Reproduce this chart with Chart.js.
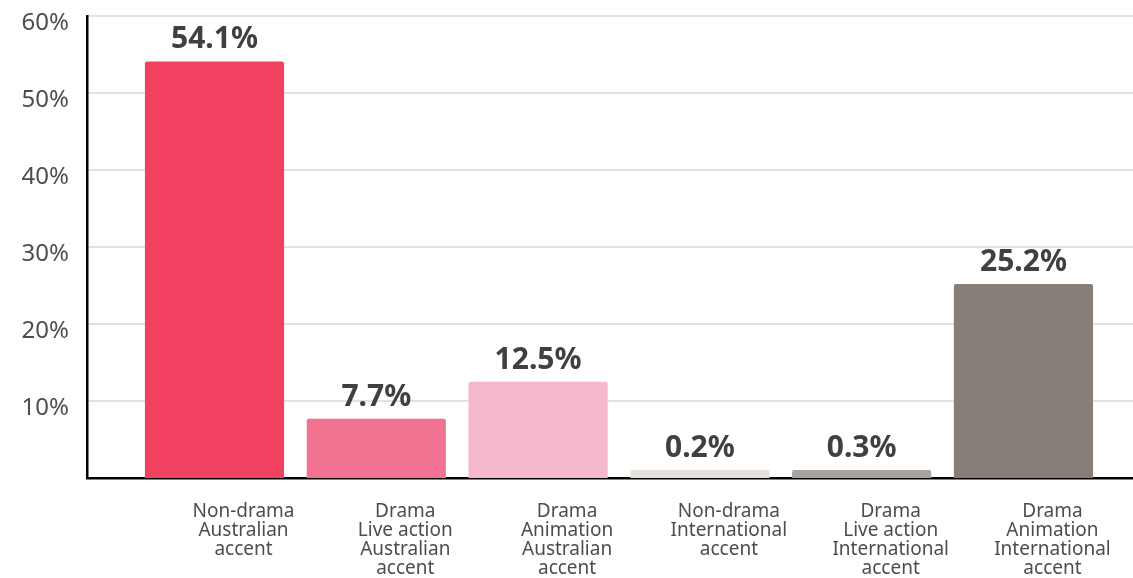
<!DOCTYPE html>
<html>
<head>
<meta charset="utf-8">
<script src="https://cdn.jsdelivr.net/npm/chart.js@4/dist/chart.umd.min.js"></script>
<style>
    html, body { margin: 0; padding: 0; background: #ffffff; }
    #accent-chart { display: block; }
</style>
</head>
<body>
<canvas id="accent-chart" width="1133" height="578"></canvas>
<script>
/**
 * Chart data
 */
const categoryLabels = [
    ['Non-drama', 'Australian', 'accent'],
    ['Drama', 'Live action', 'Australian', 'accent'],
    ['Drama', 'Animation', 'Australian', 'accent'],
    ['Non-drama', 'International', 'accent'],
    ['Drama', 'Live action', 'International', 'accent'],
    ['Drama', 'Animation', 'International', 'accent']
];
const shareValues = [54.1, 7.7, 12.5, 0.2, 0.3, 25.2];
const barColours = ['#f04260', '#f17391', '#f6b8cb', '#e5e1da', '#a9a3a0', '#877e78'];
const yTickValues = [10, 20, 30, 40, 50, 60];

const fontFamily = "'Noto Sans', 'Open Sans', sans-serif";

// x runs as a linear scale so the bars can sit off to the right of the y axis
const xMin = -0.788;
const xMax = 5.677;

//percentage labels above each bar
const valueLabelPlugin = {
    id: 'valueLabels',
    afterDatasetsDraw(chart) {
        const ctx = chart.ctx;
        const meta = chart.getDatasetMeta(0);
        ctx.save();
        ctx.font = "bold 30px " + fontFamily;
        ctx.fillStyle = '#404040';
        ctx.textAlign = 'center';
        ctx.textBaseline = 'alphabetic';
        meta.data.forEach((bar, i) => {
            ctx.fillText(shareValues[i].toFixed(1) + '%', bar.x, bar.y - 13);
        });
        ctx.restore();
    }
};

let accentChartData = {
    datasets: [{
        data: shareValues.map((v, i) => ({ x: i, y: v })),
        backgroundColor: barColours,
        borderRadius: 2,
        borderSkipped: 'bottom',
        barPercentage: 1,
        categoryPercentage: 0.86,
        minBarLength: 8
    }]
};

let accentChartConfig = {
    type: 'bar',
    data: accentChartData,
    plugins: [valueLabelPlugin],
    options: {
        responsive: false,
        animation: false,
        layout: {
            padding: { top: 16, right: 0, bottom: 0, left: 0 }
        },
        plugins: {
            legend: { display: false },
            tooltip: { enabled: false }
        },
        scales: {
            x: {
                type: 'linear',
                offset: false,
                min: xMin,
                max: xMax,
                afterBuildTicks: (scale) => {
                    scale.ticks = categoryLabels.map((c, i) => ({ value: i }));
                },
                afterFit: (scale) => { scale.height = 100; },
                grid: { display: false },
                border: { display: true, color: '#000000', width: 2.5 },
                ticks: {
                    autoSkip: false,
                    maxRotation: 0,
                    minRotation: 0,
                    padding: 16,
                    labelOffset: 29,
                    color: '#4d4d4d',
                    font: { family: fontFamily, size: 19, lineHeight: 1.0 },
                    callback: (value) => categoryLabels[Math.round(value)]
                }
            },
            y: {
                min: 0,
                max: 60,
                afterBuildTicks: (scale) => {
                    scale.ticks = yTickValues.map(v => ({ value: v }));
                },
                afterFit: (scale) => {
                    scale.width = 87;
                    scale.paddingTop = 0;
                },
                grid: {
                    color: '#e3e2dd',
                    lineWidth: 2,
                    drawTicks: false
                },
                border: { display: true, color: '#000000', width: 2.5 },
                ticks: {
                    padding: 18,
                    labelOffset: 7,
                    color: '#4d4d4d',
                    font: { family: fontFamily, size: 24 },
                    callback: (value) => value + '%'
                }
            }
        }
    }
};

const accentChart = new Chart(
    document.getElementById('accent-chart'),
    accentChartConfig
);
</script>
</body>
</html>
